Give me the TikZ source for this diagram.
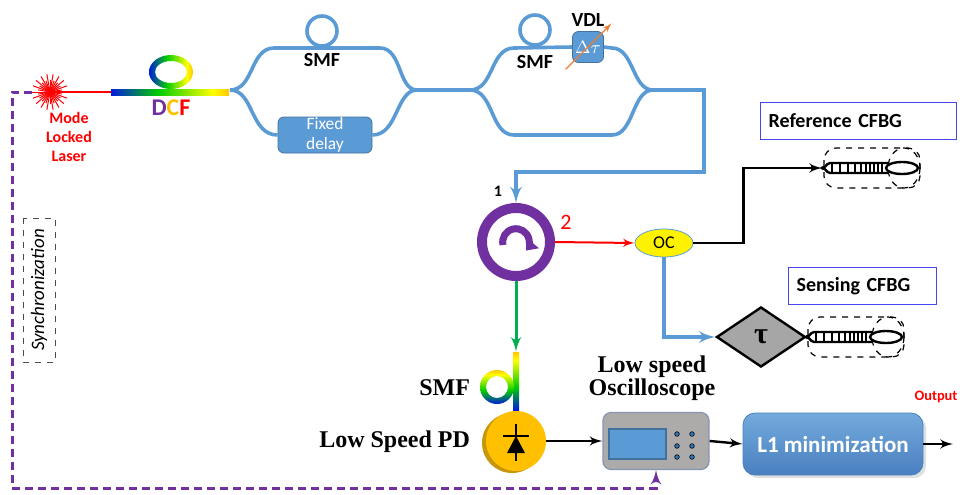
\documentclass[tikz,border=0pt]{standalone}
\usepackage{amsmath,amsfonts,amssymb}
\usepackage{bm}
\usepackage{fontspec}
\setmainfont{Carlito}
\newfontfamily\timesfont{Liberation Serif}
\usepackage{tikz}
\usetikzlibrary{shapes,arrows,arrows.meta,shadows}

\definecolor{fiberblue}{HTML}{5B9BD5}
\definecolor{fiberedge}{HTML}{41719C}
\definecolor{circpurple}{HTML}{7030A0}
\definecolor{fibergreen}{HTML}{00B050}
\definecolor{pdgold}{HTML}{FFC000}
\definecolor{pdshadow}{HTML}{C8960A}
\definecolor{scopegray}{HTML}{ADAAAA}
\definecolor{scopeedge}{HTML}{8497B0}
\definecolor{dotblue}{HTML}{2E75B6}
\definecolor{taugray}{HTML}{A6A6A6}
\definecolor{labelblue}{HTML}{4646F0}
\definecolor{l1top}{HTML}{72AADC}
\definecolor{l1bottom}{HTML}{4A80C0}
\definecolor{vdlorange}{HTML}{ED7D31}
\definecolor{rbviolet}{HTML}{7030A0}

\pgfdeclarehorizontalshading{rainbowh}{100bp}{color(0bp)=(rbviolet); color(22bp)=(blue); color(45bp)=(green!80!black); color(68bp)=(yellow); color(84bp)=(orange); color(100bp)=(red)}
\pgfdeclareverticalshading{rainbowv}{100bp}{color(0bp)=(rbviolet); color(22bp)=(blue); color(45bp)=(green!80!black); color(68bp)=(yellow); color(84bp)=(orange); color(100bp)=(red)}

\begin{document}
\begin{tikzpicture}[x=0.5pt,y=-0.5pt,
	fiber/.style={draw=fiberblue,line width=1.8pt},
	line/.style={draw,line width=1.2pt,-latex'},
	sync/.style={draw=circpurple,line width=1.5pt,dash pattern=on 4pt off 2.5pt,-latex'},
	smfloop/.style={circle,draw=fiberblue,line width=1.8pt,minimum size=15pt,inner sep=0pt},
	smflabel/.style={font=\bfseries\fontsize{10}{11}\selectfont},
	serifbold/.style={font=\timesfont\bfseries\fontsize{12}{11.5}\selectfont},
	delaybox/.style={rectangle,rounded corners=3pt,fill=fiberblue,draw=fiberedge,line width=0.4pt,text=white,
		font=\fontsize{8.7}{10}\selectfont,align=center,minimum width=47pt,minimum height=18pt,inner sep=0pt},
	cfbglabel/.style={rectangle,draw=labelblue,line width=0.6pt,font=\bfseries\fontsize{10}{11}\selectfont,
		minimum height=18.5pt,inner xsep=4pt,align=left},
	bars/.style={line width=1.2pt},
	l1box/.style={rectangle,rounded corners=6pt,top color=l1top,bottom color=l1bottom,draw=l1bottom,
		drop shadow={shadow xshift=1.5pt,shadow yshift=-1.5pt,opacity=0.25},
		text=white,font=\bfseries\fontsize{11.5}{13}\selectfont,minimum width=90pt,minimum height=31pt}]
\useasboundingbox (0,0) rectangle (960,494);

% source and dispersion
\node[circle,inner sep=0pt,minimum size=18pt] (laser) at (50,92) {};
\foreach \a in {0,20,...,340} \draw[red,line width=0.5pt] (laser.center) -- ++(\a:18);
\foreach \a in {10,30,...,350} \draw[red,line width=0.5pt] (laser.center) -- ++(\a:12);
\fill[red] (laser.center) circle (3.5);
\node[text=red,align=center,font=\bfseries\fontsize{8}{9.5}\selectfont] (laserlabel) at (69,137) {Mode\\Locked\\Laser};
\node[shade,shading=rainbowh,minimum width=59pt,minimum height=3pt,inner sep=0pt] (dcf) at (170,92) {};
\draw[red,line width=1pt] (laser.center) -- (dcf.west);
\shade[shading=rainbowh,even odd rule] (171,72) ellipse [x radius=22,y radius=17] (171,72) ellipse [x radius=16,y radius=11];
\node[font=\bfseries\fontsize{12}{13}\selectfont] (dcflabel) at (171,108) {\textcolor{circpurple}{D}\textcolor{pdgold}{C}\textcolor{red}{F}};

% interferometers
\coordinate (split1) at (230,90);
\coordinate (merge1) at (417,90);
\coordinate (split2) at (470,90);
\coordinate (merge2) at (653,90);
\node[delaybox] (fixdelay) at (325,135) {Fixed\\delay};
\node[rectangle,rounded corners=3pt,fill=fiberblue,draw=fiberedge,line width=0.4pt,minimum size=15.5pt,inner sep=0pt,
	text=white,font=\fontsize{9}{10}\selectfont] (vdl) at (588,47) {$\Delta\tau$};
\draw[fiber] (split1) .. controls (254,90) and (250,48) .. (274,48) -- (380,48) .. controls (402,48) and (398,90) .. (merge1);
\draw[fiber] (split1) .. controls (254,90) and (250,135) .. (fixdelay.west);
\draw[fiber] (fixdelay.east) .. controls (398,135) and (396,90) .. (merge1) -- (split2);
\draw[fiber] (split2) .. controls (494,90) and (490,48) .. (514,48) -- (vdl.west);
\draw[fiber] (vdl.east) -- (612,48) .. controls (634,48) and (632,90) .. (merge2);
\draw[fiber] (split2) .. controls (494,90) and (490,135) .. (514,135) -- (612,135) .. controls (634,135) and (632,90) .. (merge2);
\node[smfloop] (smf1) at (322,31) {};
\node[smfloop] (smf2) at (535,30) {};
\node[smflabel] (smf1label) at (322,60) {SMF};
\node[smflabel] (smf2label) at (535,62) {SMF};
\node[smflabel] (vdllabel) at (588,20) {VDL};
\draw[vdlorange,line width=0.6pt,-latex',shorten <=-4.5pt,shorten >=-5.5pt] (vdl.south west) -- (vdl.north east);

% circulator and coupler
\node[circle,draw=circpurple,line width=5pt,minimum size=34pt,inner sep=0pt] (circ) at (516,242) {};
\draw[circpurple,line width=3.5pt,-{Triangle[length=5pt,width=8pt]}] (circ.center) ++(-13,3) arc[start angle=167,end angle=400,radius=13.3];
\draw[fiber,-latex'] (merge2) -- ++(51,0) -- ++(0,82) -| (circ.north);
\node[font=\bfseries\fontsize{8}{9}\selectfont] (port1) at (498,191) {1};
\node[text=red,font=\fontsize{11}{12}\selectfont] (port2) at (566,222) {2};
\node[ellipse,fill=yellow,draw=fiberblue,line width=0.4pt,minimum width=29pt,minimum height=14pt,inner sep=0pt,
	font=\fontsize{9}{10}\selectfont] (oc) at (664,243) {OC};
\draw[red,line width=1pt,-latex'] (circ.east) -- (oc.west);

% gratings
\coordinate (refcfbg) at (822,168);
\node[diamond,draw,line width=1.2pt,fill=taugray,minimum width=44.5pt,minimum height=30pt,inner sep=0pt,
	font=\timesfont\bfseries\fontsize{15}{15}\selectfont] (tau) at (761,337) {τ};
\coordinate (sensecfbg) at (tau.east);
\draw[line] (oc.east) -- ++(50,0) |- (refcfbg);
\draw[fiber,-latex'] (oc.south) |- (tau.west);
\foreach \gx/\gy in {822/168,806/337} {
	\draw[line width=0.6pt,dashed,rounded corners=6pt] (\gx+2,\gy-20) rectangle (\gx+98,\gy+20);
	\draw[line width=0.6pt,dashed] (\gx+82,\gy) ellipse [x radius=16,y radius=20];
	\draw[bars] (\gx+66,\gy-5) -- (\gx+8,\gy-5) to[out=180,in=-80] (\gx,\gy) to[out=80,in=180] (\gx+8,\gy+5) -- (\gx+66,\gy+5);
	\foreach \b in {10,18,26,33,39,44,48,52,56,60}
		\draw[line width=1pt] (\gx+\b,\gy-5) -- (\gx+\b,\gy+5);
	\draw[bars,fill=white] (\gx+80,\gy) ellipse [x radius=16,y radius=6];
}
\node[cfbglabel,anchor=west,text width=90pt] (reflabel) at (760,121) {Reference CFBG};
\node[cfbglabel,anchor=west,text width=66pt] (senselabel) at (788,286) {Sensing CFBG};

% detection
\node[shade,shading=rainbowv,minimum width=3pt,minimum height=29pt,inner sep=0pt] (smfbar) at (516,381) {};
\draw[fibergreen,line width=1.5pt,-latex'] (circ.south) -- (smfbar.north);
\shade[shading=rainbowv,even odd rule] (497,387) circle (17) (497,387) circle (11);
\node[serifbold,anchor=east] (smf3label) at (477,388) {SMF};
\fill[pdshadow] (512,443) circle (30);
\node[circle,fill=pdgold,minimum size=30pt,inner sep=0pt] (pd) at (516,441) {};
\draw[line width=1pt] (516,424) -- (516,461);
\draw[line width=1pt] (503,436) -- (529,436);
\fill (516,436) -- (507,453) -- (525,453) -- cycle;
\node[serifbold,anchor=east] (pdlabel) at (477,442) {Low Speed PD};

\node[rectangle,rounded corners=4pt,fill=scopegray,draw=scopeedge,line width=0.6pt,minimum width=53pt,minimum height=28.5pt] (scope) at (656,441) {};
\draw[fill=fiberblue,draw=fiberedge,line width=0.6pt] (609,429) rectangle (666,459);
\foreach \dx in {677,692}
	\foreach \dy in {434,446,457}
		\filldraw[fill=dotblue,draw=black,line width=0.3pt] (\dx,\dy) circle (2.3);
\node[serifbold,align=center] (scopelabel) at (652,378) {Low speed\\Oscilloscope};
\draw[line] (pd.east) -- (scope.west);

\node[l1box] (l1) at (833,444) {L1 minimization};
\coordinate (output) at (953,444);
\draw[line] (scope.east) -- (l1.west);
\draw[line] (l1.east) -- (output);
\node[text=red,font=\bfseries\fontsize{7.2}{8}\selectfont] (outlabel) at (936,397) {Output};

% trigger
\coordinate (synccorner) at (12,488);
\draw[sync] (laser.west) -| (synccorner) -| (scope.south);
\node[rotate=90,draw=black!70,dashed,line width=0.5pt,font=\itshape\fontsize{9.5}{10}\selectfont,
	minimum width=72pt,minimum height=16pt] (synclabel) at (39,290) {Synchronization};
\end{tikzpicture}
\end{document}
